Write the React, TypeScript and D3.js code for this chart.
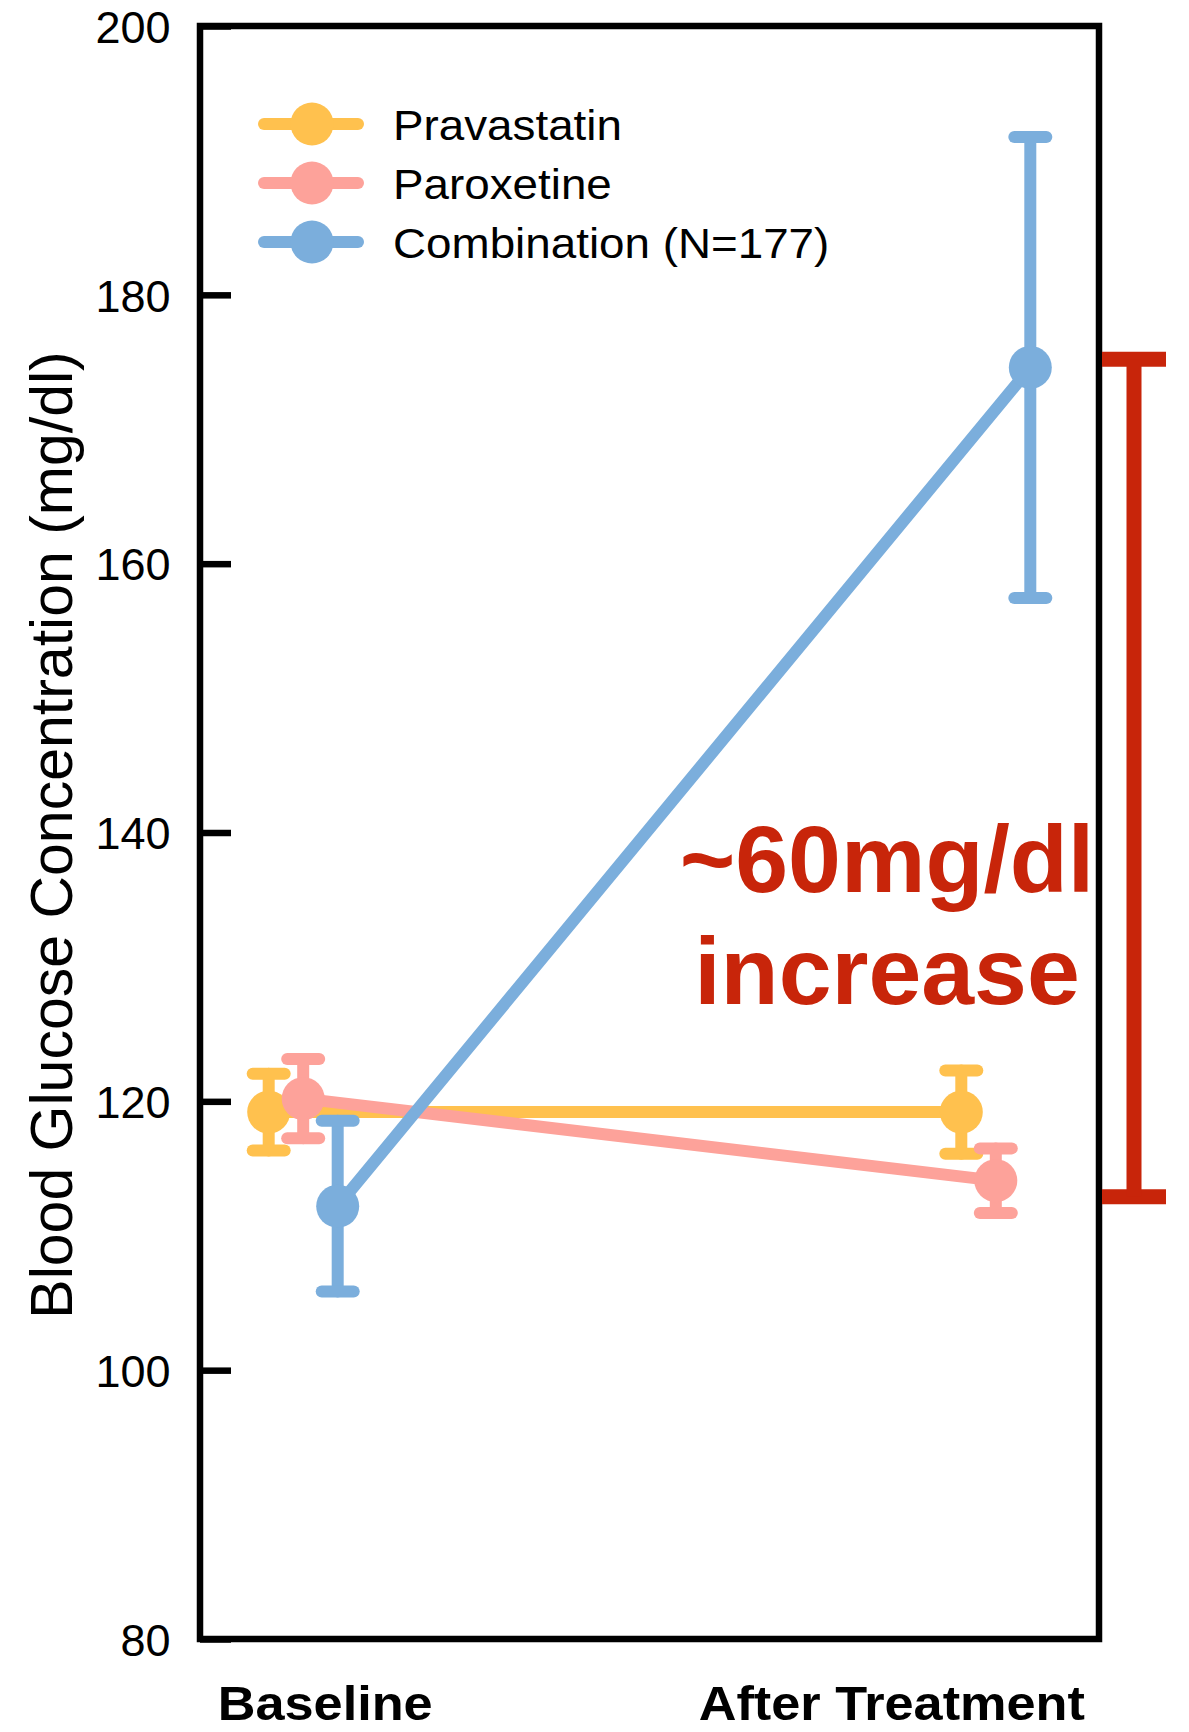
import React, { useEffect, useRef } from "react";
import * as d3 from "d3";

// ---------- data ----------
const categories = ["Baseline", "After Treatment"];
const seriesNames = ["Pravastatin", "Paroxetine", "Combination (N=177)"];
const seriesColors = ["#FFC14E", "#FDA29A", "#7BAEDC"];

const pravastatinMean = [119.2, 119.2];
const pravastatinErr = [2.85, 3.1];
const paroxetineMean = [120.2, 114.1];
const paroxetineErr = [2.95, 2.4];
const combinationMean = [112.2, 174.6];
const combinationErr = [6.35, 17.15];

const yTicks = [80, 100, 120, 140, 160, 180, 200];
const yDomain = [80, 200];
const bracketRange = [112.9, 175.2];
const annotationLines = ["~60mg/dl", "increase"];
const yTitle = "Blood Glucose Concentration (mg/dl)";

const series = [
  { name: seriesNames[0], color: seriesColors[0], mean: pravastatinMean, err: pravastatinErr },
  { name: seriesNames[1], color: seriesColors[1], mean: paroxetineMean, err: paroxetineErr },
  { name: seriesNames[2], color: seriesColors[2], mean: combinationMean, err: combinationErr },
];

// ---------- layout ----------
const W = 1189;
const H = 1732;
const left = 200;
const right = 1099;
const top = 26;
const bottom = 1639;
const FONT = "'Liberation Sans', Arial, Helvetica, sans-serif";
const RED = "#C8250A";

const x = d3.scalePoint<string>().domain(categories).range([left, right]).padding(0.149);
const dodge = d3.scalePoint<string>().domain(seriesNames).range([-34.5, 34.5]);
const y = d3.scaleLinear().domain(yDomain).range([bottom, top]);

const lineGen = d3
  .line<{ cx: number; cy: number }>()
  .x((d) => d.cx)
  .y((d) => d.cy);

export default function App() {
  const axisRef = useRef<SVGGElement>(null);

  useEffect(() => {
    if (!axisRef.current) return;
    const g = d3.select(axisRef.current);
    g.selectAll("*").remove();
    g.call(
      d3
        .axisLeft(y)
        .tickValues(yTicks)
        .tickSizeInner(-31)
        .tickSizeOuter(0)
        .tickPadding(29.5)
        .tickFormat((d) => String(d))
    );
    g.select(".domain").remove();
    g.selectAll(".tick line").attr("stroke", "#000").attr("stroke-width", 6.5);
    g.selectAll(".tick text")
      .attr("fill", "#000")
      .attr("font-family", FONT)
      .attr("font-size", 45)
      .attr("dy", "0.36em");
  }, []);

  const capHalf = 16;
  const legendY = [124, 183, 242];

  return (
    <svg
      width={W}
      height={H}
      style={{ position: "absolute", left: 0, top: 0, display: "block", background: "#fff" }}
    >
      <rect x={0} y={0} width={W} height={H} fill="#fff" />

      {/* y axis title */}
      <text
        transform={`translate(72,835) rotate(-90)`}
        textAnchor="middle"
        fontFamily={FONT}
        fontSize={59}
        fill="#000"
      >
        {yTitle}
      </text>

      {/* axis ticks */}
      <g ref={axisRef} transform={`translate(${left},0)`} />

      {/* frame */}
      <rect
        x={left}
        y={top}
        width={right - left}
        height={bottom - top}
        fill="none"
        stroke="#000"
        strokeWidth={6.5}
      />

      {/* series */}
      {series.map((s) => {
        const pts = categories.map((c, i) => ({
          cx: (x(c) as number) + (dodge(s.name) as number),
          cy: y(s.mean[i]),
          hi: y(s.mean[i] + s.err[i]),
          lo: y(s.mean[i] - s.err[i]),
        }));
        return (
          <g key={s.name}>
            <path
              d={lineGen(pts) || ""}
              fill="none"
              stroke={s.color}
              strokeWidth={12}
              strokeLinecap="round"
            />
            {pts.map((p, i) => (
              <g key={i} stroke={s.color} strokeWidth={12} strokeLinecap="round">
                <line x1={p.cx} x2={p.cx} y1={p.hi} y2={p.lo} />
                <line x1={p.cx - capHalf} x2={p.cx + capHalf} y1={p.hi} y2={p.hi} />
                <line x1={p.cx - capHalf} x2={p.cx + capHalf} y1={p.lo} y2={p.lo} />
                <circle cx={p.cx} cy={p.cy} r={21.5} fill={s.color} stroke="none" />
              </g>
            ))}
          </g>
        );
      })}

      {/* legend */}
      {series.map((s, i) => (
        <g key={s.name}>
          <line
            x1={264}
            x2={358}
            y1={legendY[i]}
            y2={legendY[i]}
            stroke={s.color}
            strokeWidth={12}
            strokeLinecap="round"
          />
          <circle cx={312} cy={legendY[i]} r={21.5} fill={s.color} />
          <text
            transform={`translate(393,${legendY[i] + 16}) scale(1.09,1)`}
            fontFamily={FONT}
            fontSize={42}
            fill="#000"
          >
            {s.name}
          </text>
        </g>
      ))}

      {/* bracket */}
      <g stroke={RED} strokeWidth={15} fill="none">
        <line x1={right + 3} x2={right + 67} y1={y(bracketRange[1])} y2={y(bracketRange[1])} />
        <line x1={right + 3} x2={right + 67} y1={y(bracketRange[0])} y2={y(bracketRange[0])} />
        <line x1={right + 35} x2={right + 35} y1={y(bracketRange[1])} y2={y(bracketRange[0])} />
      </g>

      {/* annotation */}
      {annotationLines.map((t, i) => (
        <text
          key={t}
          x={887}
          y={892 + i * 112}
          textAnchor="middle"
          fontFamily={FONT}
          fontSize={95}
          fontWeight="bold"
          fill={RED}
        >
          {t}
        </text>
      ))}

      {/* x category labels */}
      <text
        transform={`translate(${(x(categories[0]) as number) + 22},1720) scale(1.1,1)`}
        textAnchor="middle"
        fontFamily={FONT}
        fontSize={47.5}
        fontWeight="bold"
        fill="#000"
      >
        {categories[0]}
      </text>
      <text
        transform={`translate(${(x(categories[1]) as number) - 104},1720) scale(1.1,1)`}
        textAnchor="middle"
        fontFamily={FONT}
        fontSize={47.5}
        fontWeight="bold"
        fill="#000"
      >
        {categories[1]}
      </text>
    </svg>
  );
}
